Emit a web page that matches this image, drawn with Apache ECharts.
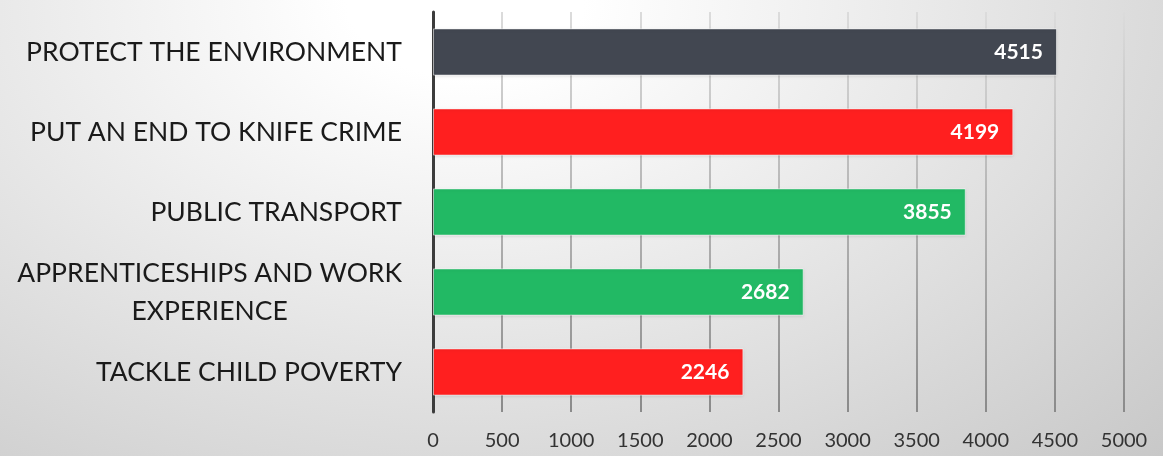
<!DOCTYPE html>
<html>
<head>
<meta charset="utf-8">
<script src="https://cdn.jsdelivr.net/npm/echarts@6/dist/echarts.min.js"></script>
<style>
  html, body { margin: 0; padding: 0; }
  body { background: radial-gradient(farthest-corner at 40% 0%, #ffffff 0%, #ffffff 12%, #c8c8c8 100%); }
  #main { width: 1163px; height: 456px; }
</style>
</head>
<body>
<div id="main"></div>
<script>
// data
var categories = [
  'PROTECT THE ENVIRONMENT',
  'PUT AN END TO KNIFE CRIME',
  'PUBLIC TRANSPORT',
  'APPRENTICESHIPS AND WORK\nEXPERIENCE',
  'TACKLE CHILD POVERTY'
];
var values = [4515, 4199, 3855, 2682, 2246];
var xTicks = [0, 500, 1000, 1500, 2000, 2500, 3000, 3500, 4000, 4500, 5000];

var barColors = ['#424751', '#ff1f1f', '#22b964', '#22b964', '#ff1f1f'];

var chart = echarts.init(document.getElementById('main'));

var option = {
  backgroundColor: 'transparent',
  textStyle: { fontFamily: 'Lato' },
  grid: { left: 433, right: 39, top: 12, bottom: 44, containLabel: false },
  xAxis: {
    type: 'value',
    min: xTicks[0],
    max: xTicks[xTicks.length - 1],
    interval: xTicks[1] - xTicks[0],
    axisLine: { show: false },
    axisTick: { show: false },
    axisLabel: {
      color: '#333333', fontSize: 20, margin: 19, fontFamily: 'Lato',
      formatter: function (v) { return String(v); }
    },
    splitLine: {
      lineStyle: {
        width: 2,
        color: {
          type: 'linear', x: 0, y: 0, x2: 0, y2: 1,
          colorStops: [
            { offset: 0, color: '#dcdcdc' },
            { offset: 1, color: '#8a8a8a' }
          ]
        }
      }
    }
  },
  yAxis: {
    type: 'category',
    inverse: true,
    data: categories,
    axisLine: { show: true, lineStyle: { color: '#3c3c3c', width: 3 } },
    axisTick: { show: false },
    axisLabel: {
      margin: 31,
      formatter: function (v) {
        return v.split('\n').map(function (s) { return '{a|' + s + '}'; }).join('\n');
      },
      rich: {
        a: { color: '#1a1a1a', fontSize: 26.5, fontFamily: 'Lato', align: 'center', lineHeight: 38 }
      }
    }
  },
  series: [{
    type: 'bar',
    data: values,
    barWidth: '59%',
    itemStyle: {
      color: function (p) { return barColors[p.dataIndex]; },
      borderColor: 'rgba(255,255,255,0.55)',
      borderWidth: 1,
      shadowColor: 'rgba(0,0,0,0.15)',
      shadowBlur: 3,
      shadowOffsetY: 1
    },
    label: {
      show: true,
      position: 'insideRight',
      distance: 14,
      color: '#ffffff',
      fontWeight: 'bold',
      fontSize: 21,
      fontFamily: 'Lato'
    }
  }]
};

chart.setOption(option);
</script>
</body>
</html>
